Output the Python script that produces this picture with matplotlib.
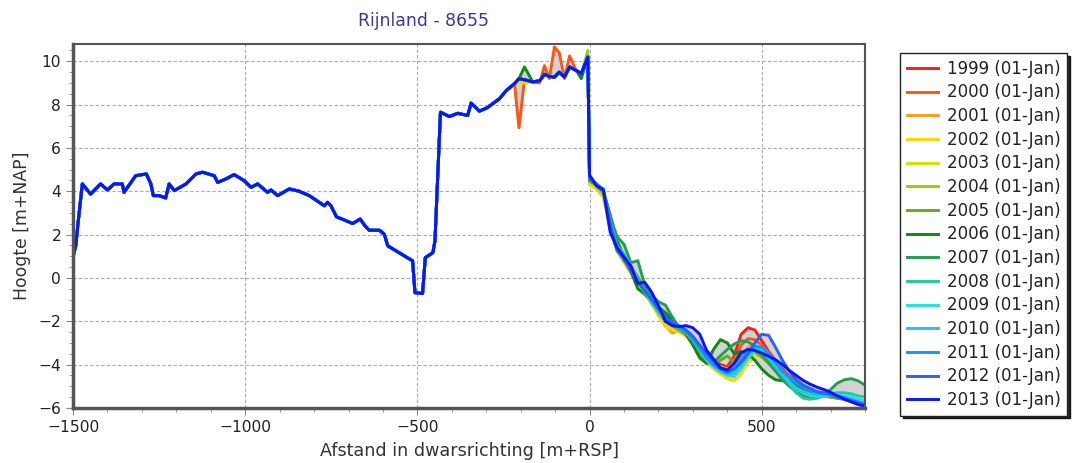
import numpy as np
import matplotlib
matplotlib.use('Agg')
from matplotlib import pyplot as plt
from matplotlib.ticker import MultipleLocator

years = list(range(1999, 2014))
colors = ['#ff1a1a', '#ff5511', '#ff9922', '#ffd700', '#d4e000', '#9ccc10', '#66aa22',
          '#118811', '#22a050', '#22c8a0', '#22e0e0', '#18c8f8', '#1e90ff', '#2a60ff', '#0a14ff']

# landward part (same for all years)
land_x = [-1498, -1492, -1485, -1473, -1449, -1420, -1400, -1381, -1357, -1352, -1318, -1287,
          -1274, -1267, -1250, -1231, -1221, -1206, -1172, -1143, -1124, -1090, -1080, -1056,
          -1032, -1003, -983, -964, -935, -925, -906, -872, -843, -814, -785, -770, -761, -751,
          -735, -707, -688, -666, -654, -640, -610, -596, -586, -562, -533, -514, -507, -485,
          -477, -465, -455, -449, -433, -407, -383, -354, -344, -320, -298, -262, -242, -218,
          -205, -189, -165, -145, -131, -117, -102, -88, -73, -58, -39, -24, -5]
land_z = [1.1, 1.5, 2.6, 4.34, 3.87, 4.34, 4.06, 4.34, 4.34, 3.95, 4.72, 4.8,
          4.34, 3.8, 3.8, 3.69, 4.34, 4.03, 4.34, 4.8, 4.88, 4.72, 4.41, 4.57,
          4.77, 4.49, 4.18, 4.34, 3.95, 4.06, 3.8, 4.11, 4.0, 3.8, 3.49, 3.33, 3.49, 3.33,
          2.82, 2.64, 2.51, 2.72, 2.44, 2.2, 2.2, 2.01, 1.48, 1.25, 0.97, 0.79, -0.68, -0.72,
          0.94, 1.06, 1.17, 1.71, 7.65, 7.45, 7.6, 7.5, 8.07, 7.7, 7.85, 8.27, 8.65, 8.97,
          9.2, 9.15, 9.05, 9.1, 9.4, 9.3, 9.27, 9.5, 9.27, 9.74, 9.58, 9.43, 10.2]

# deviations on the dune crest
crest_2000 = {-205: 6.93, -145: 9.0, -131: 9.8, -117: 9.2, -102: 10.66, -88: 10.4, -73: 9.2, -58: 10.25}
crest_2002 = {-205: 9.0, -189: 9.0}
crest_2004 = {-5: 10.5}
crest_2006 = {-189: 9.74, -24: 9.2}

sea_x = list(range(0, 801, 20))
sea_1999 = [4.5, 4.2, 3.9, 2.8, 1.5, 1.0, 0.4, 0.0, -0.5, -0.9, -1.4, -1.65, -2.0, -2.3, -2.5, -2.8,
            -3.3, -3.6, -3.8, -4.0, -4.1, -3.6, -2.6, -2.3, -2.4, -2.9, -3.4, -3.8, -4.2, -4.55,
            -4.8, -5.0, -5.2, -5.35, -5.45, -5.5, -5.55, -5.6, -5.7, -5.75, -5.8]
sea_2000 = [4.5, 4.25, 3.95, 2.6, 1.45, 0.9, 0.5, -0.1, -0.55, -1.0, -1.45, -1.8, -2.2, -2.35, -2.45,
            -2.85, -3.35, -3.7, -3.95, -4.15, -4.2, -3.8, -3.1, -2.8, -2.85, -3.1, -3.45, -3.85, -4.25,
            -4.6, -4.9, -5.1, -5.25, -5.35, -5.4, -5.45, -5.5, -5.55, -5.65, -5.75, -5.8]
sea_2001 = [4.4, 4.2, 3.8, 2.4, 1.5, 0.8, 0.3, -0.2, -0.6, -1.1, -1.7, -2.2, -2.55, -2.4, -2.5, -2.9,
            -3.4, -3.8, -4.05, -4.3, -4.4, -4.1, -3.6, -3.2, -3.1, -3.3, -3.6, -3.95, -4.35, -4.65,
            -4.95, -5.15, -5.3, -5.4, -5.45, -5.5, -5.5, -5.55, -5.65, -5.75, -5.85]
sea_2002 = [4.3, 4.1, 3.7, 2.3, 1.3, 0.7, 0.2, -0.3, -0.75, -1.2, -1.75, -2.25, -2.4, -2.5, -2.7,
            -3.05, -3.5, -3.9, -4.2, -4.45, -4.65, -4.75, -4.45, -3.9, -3.6, -3.6, -3.75, -4.0, -4.35,
            -4.65, -4.9, -5.05, -5.2, -5.3, -5.4, -5.45, -5.5, -5.6, -5.7, -5.8, -5.85]
sea_2003 = [4.4, 4.15, 3.8, 2.2, 1.2, 0.75, 0.3, -0.25, -0.7, -1.15, -1.6, -2.05, -2.3, -2.45, -2.65,
            -3.0, -3.45, -3.85, -4.1, -4.3, -4.45, -4.4, -4.0, -3.6, -3.45, -3.55, -3.8, -4.1, -4.4,
            -4.65, -4.85, -5.0, -5.15, -5.25, -5.35, -5.4, -5.45, -5.55, -5.65, -5.75, -5.85]
sea_2004 = [4.5, 4.25, 3.9, 2.5, 1.4, 0.9, 0.45, 0.0, -0.55, -1.0, -1.5, -1.95, -2.15, -2.35, -2.55,
            -2.9, -3.4, -3.85, -4.0, -4.1, -4.2, -4.15, -3.8, -3.45, -3.3, -3.4, -3.7, -4.05, -4.4,
            -4.7, -4.95, -5.1, -5.2, -5.3, -5.35, -5.4, -5.45, -5.5, -5.6, -5.7, -5.8]
sea_2005 = [4.5, 4.3, 3.95, 2.7, 1.6, 0.8, 0.5, 0.05, -0.5, -1.0, -1.45, -1.9, -2.2, -2.4, -2.6,
            -3.0, -3.5, -3.9, -4.0, -3.8, -3.6, -3.9, -3.7, -3.35, -3.4, -3.65, -3.95, -4.3, -4.6,
            -4.85, -5.0, -5.1, -5.2, -5.3, -5.4, -5.5, -5.55, -5.6, -5.65, -5.7, -5.75]
sea_2006 = [4.55, 4.35, 4.0, 2.9, 1.7, 1.0, 0.3, -0.5, -0.75, -1.05, -1.35, -1.6, -1.9, -2.3, -2.6,
            -3.1, -3.7, -3.95, -3.3, -2.85, -3.0, -3.5, -3.4, -3.5, -3.8, -4.2, -4.5, -4.7, -4.75,
            -4.75, -4.9, -5.1, -5.25, -5.3, -5.35, -5.4, -5.5, -5.55, -5.6, -5.65, -5.7]
sea_2007 = [4.5, 4.3, 4.0, 2.8, 1.9, 1.55, 0.7, 0.8, -0.3, -0.8, -1.1, -1.25, -1.8, -2.3, -2.55,
            -2.85, -3.3, -3.7, -3.9, -3.6, -3.3, -3.05, -2.9, -2.95, -3.15, -3.5, -3.9, -4.3, -4.7,
            -5.0, -5.25, -5.45, -5.55, -5.55, -5.4, -5.15, -4.85, -4.7, -4.65, -4.75, -4.95]
sea_2008 = [4.6, 4.35, 4.05, 2.6, 1.5, 1.1, 0.6, -0.1, -0.6, -1.15, -1.6, -2.0, -2.15, -2.35, -2.55,
            -2.85, -3.3, -3.75, -4.05, -4.25, -4.4, -4.3, -3.85, -3.45, -3.2, -3.3, -3.6, -4.0, -4.45,
            -4.9, -5.3, -5.55, -5.6, -5.55, -5.45, -5.35, -5.3, -5.3, -5.35, -5.45, -5.5]
sea_2009 = [4.6, 4.3, 4.0, 2.5, 1.3, 1.0, 0.45, -0.15, -0.65, -1.1, -1.55, -1.9, -2.1, -2.3, -2.5,
            -2.85, -3.35, -3.8, -4.1, -4.35, -4.5, -4.55, -4.2, -3.7, -3.35, -3.3, -3.55, -3.95, -4.4,
            -4.8, -5.1, -5.3, -5.4, -5.45, -5.45, -5.4, -5.4, -5.45, -5.5, -5.6, -5.7]
sea_2010 = [4.65, 4.35, 4.05, 2.4, 1.35, 0.95, 0.4, -0.1, -0.6, -1.05, -1.5, -1.85, -2.05, -2.25, -2.45,
            -2.8, -3.3, -3.75, -4.05, -4.3, -4.45, -4.4, -4.0, -3.55, -3.3, -3.4, -3.7, -4.1, -4.5,
            -4.85, -5.1, -5.25, -5.35, -5.4, -5.4, -5.35, -5.4, -5.5, -5.6, -5.7, -5.8]
sea_2011 = [4.7, 4.3, 4.1, 2.3, 1.25, 0.9, 0.35, -0.15, -0.55, -1.0, -1.45, -1.85, -2.1, -2.3, -2.5,
            -2.8, -3.25, -3.7, -4.0, -4.2, -4.35, -4.2, -3.8, -3.4, -3.15, -3.2, -3.5, -3.9, -4.3,
            -4.6, -4.85, -5.05, -5.2, -5.3, -5.35, -5.4, -5.5, -5.6, -5.7, -5.8, -5.9]
sea_2012 = [4.6, 4.3, 4.1, 2.5, 1.3, 0.85, 0.3, -0.2, -0.6, -1.0, -1.4, -1.8, -2.05, -2.2, -2.4,
            -2.7, -3.1, -3.5, -3.85, -4.2, -4.35, -4.2, -3.9, -3.5, -3.0, -2.6, -2.65, -3.2, -3.8,
            -4.3, -4.7, -4.95, -5.1, -5.25, -5.3, -5.35, -5.45, -5.55, -5.65, -5.75, -5.85]
sea_2013 = [4.75, 4.25, 4.05, 2.1, 1.4, 0.97, 0.55, -0.25, -0.2, -0.65, -1.28, -2.0, -2.2, -2.25, -2.2,
            -2.3, -2.6, -3.35, -3.75, -4.15, -4.25, -3.95, -3.45, -3.3, -3.35, -3.47, -3.62, -3.78, -4.0,
            -4.27, -4.5, -4.73, -4.9, -5.04, -5.15, -5.28, -5.45, -5.6, -5.72, -5.85, -5.92]

sea = [sea_1999, sea_2000, sea_2001, sea_2002, sea_2003, sea_2004, sea_2005, sea_2006,
       sea_2007, sea_2008, sea_2009, sea_2010, sea_2011, sea_2012, sea_2013]
crest = {2000: crest_2000, 2002: crest_2002, 2004: crest_2004, 2006: crest_2006}

xs = np.array(land_x + sea_x, dtype=float)
profiles = []
for yr, s in zip(years, sea):
    lz = list(land_z)
    for xv, zv in crest.get(yr, {}).items():
        lz[land_x.index(xv)] = zv
    profiles.append(np.array(lz + s))
profiles = np.array(profiles)

fig = plt.figure(figsize=(10.82, 4.63), dpi=100)
ax = fig.add_axes([0.0675, 0.119, 0.732, 0.786])

ax.fill_between(xs, profiles.min(axis=0), profiles.max(axis=0), color='#d2d2d2', lw=0, zorder=1)
for yr, c, z in zip(years, colors, profiles):
    ax.plot(xs, z, color=c, lw=2.1, label='%d (01-Jan)' % yr, zorder=2)

ax.set_xlim(-1500, 800)
ax.set_ylim(-6, 10.8)
ax.set_xticks([-1500, -1000, -500, 0, 500])
ax.set_yticks(range(-6, 11, 2))
ax.xaxis.set_minor_locator(MultipleLocator(100))
ax.yaxis.set_minor_locator(MultipleLocator(0.5))
ax.tick_params(which='both', colors='#888888', labelcolor='#222222', labelsize=11.2, direction='out')
ax.tick_params(which='major', length=5)
ax.tick_params(which='minor', length=3)
ax.grid(True, which='major', color='#aaaaaa', ls=(0, (3, 2)), lw=0.8, zorder=0)
ax.set_axisbelow(True)
for side in ['left', 'bottom']:
    ax.spines[side].set_color('#555555')
    ax.spines[side].set_linewidth(2.5)
for side in ['top', 'right']:
    ax.spines[side].set_color('#555555')
    ax.spines[side].set_linewidth(1.5)

ax.set_xlabel('Afstand in dwarsrichting [m+RSP]', fontsize=12.6, color='#333333', labelpad=5)
ax.set_ylabel('Hoogte [m+NAP]', fontsize=12.4, color='#333333', labelpad=5)
fig.text(423 / 1082, 1 - 21 / 463, 'Rijnland - 8655', ha='center', va='center',
         fontsize=12.4, color='#38389a')

leg = fig.legend(loc='upper left', bbox_to_anchor=(900 / 1082, 1 - 53 / 463),
                 borderaxespad=0, fontsize=12, frameon=True, fancybox=False,
                 shadow={'color': 'black', 'alpha': 0.85},
                 handlelength=1.85, handletextpad=0.55, labelspacing=0.34, borderpad=0.4)
leg.get_frame().set_edgecolor('#222222')
leg.get_frame().set_linewidth(1.0)
for t in leg.get_texts():
    t.set_color('#222222')

fig.savefig('out.png', dpi=100)
